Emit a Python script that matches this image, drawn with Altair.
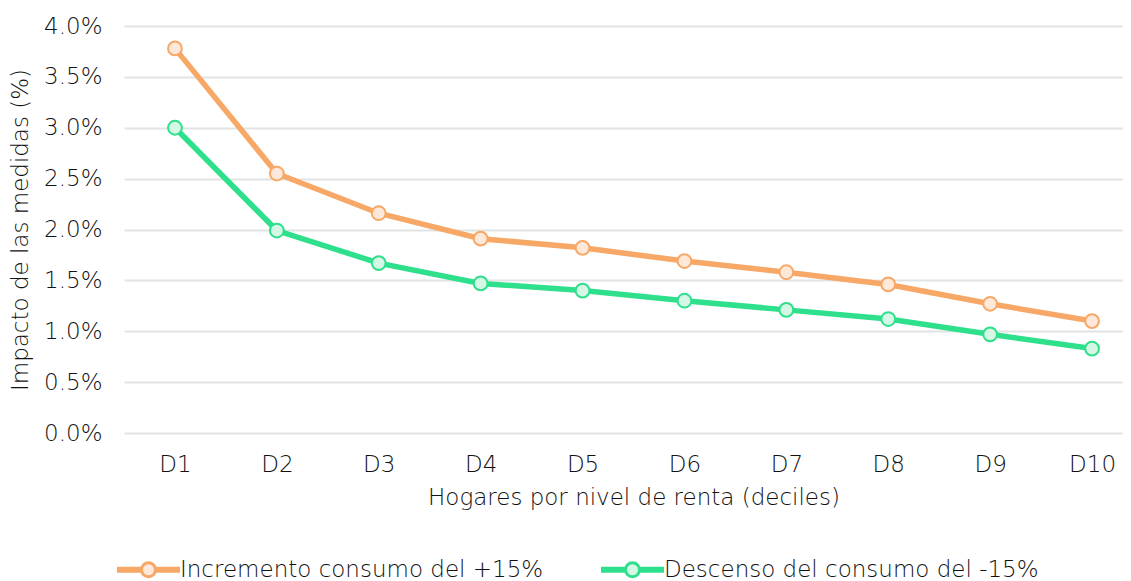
import altair as alt
import pandas as pd

deciles = ["D1", "D2", "D3", "D4", "D5", "D6", "D7", "D8", "D9", "D10"]
incremento = [3.78, 2.55, 2.16, 1.91, 1.82, 1.69, 1.58, 1.46, 1.27, 1.10]
descenso = [3.00, 1.99, 1.67, 1.47, 1.40, 1.30, 1.21, 1.12, 0.97, 0.83]
series_names = ["Incremento consumo del +15%", "Descenso del consumo del -15%"]
line_colors = ["#F7A866", "#2EDF8C"]
fill_colors = ["#FDE8DA", "#D4F7E6"]
y_ticks = [0, 0.5, 1.0, 1.5, 2.0, 2.5, 3.0, 3.5, 4.0]

rows = []
for name, vals in zip(series_names, [incremento, descenso]):
    for d, v in zip(deciles, vals):
        rows.append({"decil": d, "valor": v, "serie": name})
df = pd.DataFrame(rows)

FONT = "DejaVu Sans"
TXT = "#111111"
FS = 23
FW = 200

legend_path = (
    "M-1,-0.05 L-0.233,-0.05 L-0.233,0.05 L-1,0.05 Z "
    "M0.233,-0.05 L1,-0.05 L1,0.05 L0.233,0.05 Z "
    "M0.233,0 A0.233,0.233 0 1 1 -0.233,0 A0.233,0.233 0 1 1 0.233,0 Z"
)

x_enc = alt.X(
    "decil:N",
    sort=deciles,
    scale=alt.Scale(type="point", padding=0.5),
    axis=alt.Axis(
        title="Hogares por nivel de renta (deciles)",
        labelAngle=0,
        domain=False,
        ticks=False,
        grid=False,
        labelPadding=20,
        titlePadding=10,
    ),
)
y_enc = alt.Y(
    "valor:Q",
    scale=alt.Scale(domain=[0, 4]),
    axis=alt.Axis(
        title="Impacto de las medidas (%)",
        values=y_ticks,
        labelExpr="format(datum.value, '.1f') + '%'",
        domain=False,
        ticks=False,
        labelPadding=22,
        titlePadding=11,
        gridColor="#E1E4E4",
        gridWidth=2,
    ),
)

legend_kw = dict(
    title=None,
    orient="none",
    legendX=-7,
    legendY=512,
    direction="horizontal",
    symbolType=legend_path,
    symbolSize=3600,
    symbolStrokeWidth=3,
    labelFontSize=FS,
    labelFont=FONT,
    labelColor=TXT,
    labelFontWeight=FW,
    labelOffset=0,
    labelLimit=600,
    columnPadding=52,
)

stroke_enc = alt.Stroke(
    "serie:N",
    scale=alt.Scale(domain=series_names, range=line_colors),
    legend=alt.Legend(**legend_kw),
)
fill_enc = alt.Fill(
    "serie:N",
    scale=alt.Scale(domain=series_names, range=fill_colors),
    legend=alt.Legend(**legend_kw),
)

base = alt.Chart(df)
lines = base.mark_line(strokeWidth=5.5).encode(x=x_enc, y=y_enc, stroke=stroke_enc)
points = base.mark_point(shape="circle", size=190, strokeWidth=2, opacity=1, filled=False).encode(
    x=x_enc, y=y_enc, stroke=stroke_enc, fill=fill_enc
)

chart = (
    alt.layer(lines, points)
    .properties(
        width=1019,
        height=407,
        autosize=alt.AutoSizeParams(type="none"),
        padding={"left": 116, "top": 18, "right": -20, "bottom": 148},
    )
    .configure_view(stroke=None)
    .configure_axis(
        labelFont=FONT,
        titleFont=FONT,
        labelFontSize=FS,
        titleFontSize=FS,
        labelColor=TXT,
        titleColor=TXT,
        labelFontWeight=FW,
        titleFontWeight=FW,
    )
)

chart.save("out.html", embed_options={"renderer": "svg", "actions": False})
